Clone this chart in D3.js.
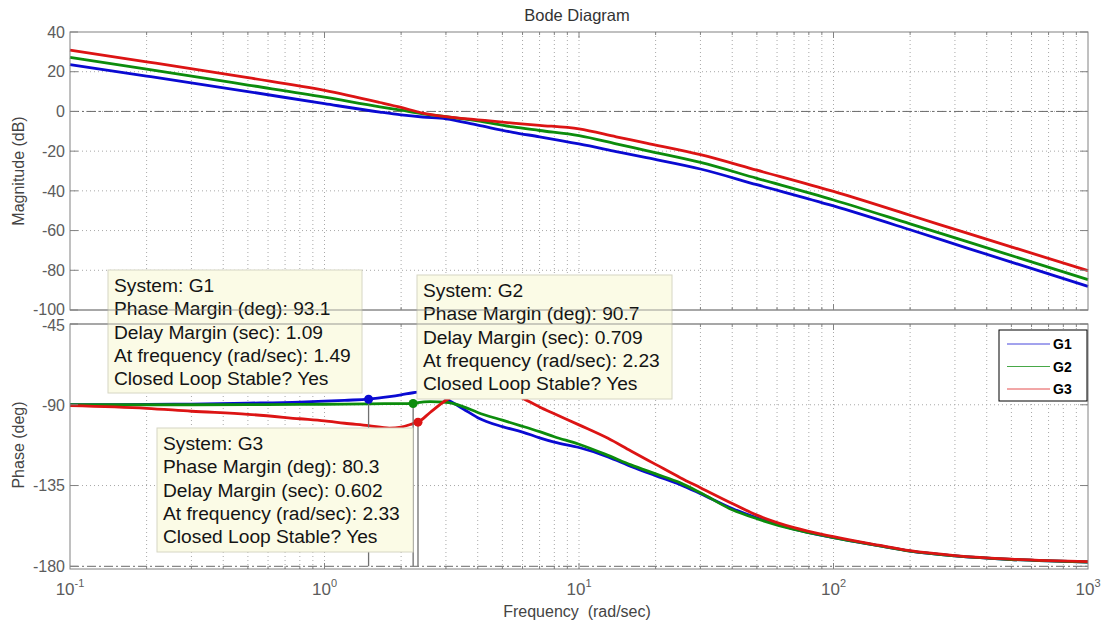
<!DOCTYPE html>
<html>
<head>
<meta charset="utf-8">
<script src="https://cdn.jsdelivr.net/npm/d3@7"></script>
<style>
  body { margin: 0; background: #fff; }
  text { font-family: "Liberation Sans", Arial, sans-serif; }
</style>
</head>
<body>
<svg id="chart" width="1102" height="626"></svg>
<script>
// Open-loop transfer functions G1, G2, G3 — Bode magnitude / phase samples
const seriesNames = ["G1", "G2", "G3"];
const seriesColors = ["#0a0ad2", "#0c8c0c", "#dc1414"];

const freqMag = [0.1, 0.2, 0.5, 1, 1.65, 2.0, 2.43, 3.0, 4, 5.5, 7, 10, 14, 18.4, 30, 50, 100, 200, 335, 1000];
const magG1 = [23.6, 17.8, 10.0, 3.9, -0.3, -1.7, -2.8, -3.7, -6.9, -10.5, -12.8, -16.4, -20.2, -23.3, -29.0, -36.9, -47.6, -59.6, -68.8, -88.1];
const magG2 = [27.2, 21.3, 13.3, 7.2, 2.3, 0.6, -1.2, -2.6, -4.8, -7.8, -9.6, -12.2, -16.3, -19.7, -25.7, -33.7, -44.6, -56.6, -65.6, -84.7];
const magG3 = [30.9, 25.0, 17.0, 10.6, 4.5, 2.0, -0.8, -2.6, -4.2, -5.9, -7.0, -8.8, -12.8, -16.0, -21.8, -29.6, -40.3, -52.3, -61.3, -80.2];

const freqPhase = [0.1, 0.2, 0.3, 0.5, 0.8, 1, 1.2, 1.49, 1.8, 2.0, 2.23, 2.33, 2.6, 3.0, 3.5, 4, 5, 6, 7, 8, 10, 13, 16, 20, 25, 30, 40, 50, 70, 100, 150, 200, 300, 500, 700, 1000];
const phaseG1 = [-90, -89.8, -89.6, -89.1, -88.5, -88.0, -87.5, -86.9, -85.5, -84.5, -83.3, -83.0, -82.5, -86.7, -92.2, -97.2, -102.2, -105.2, -108.4, -110.8, -113.8, -119.0, -124.3, -129.5, -134.5, -139.5, -147.8, -153.0, -159.3, -164.0, -168.5, -171.5, -174.2, -176.2, -177.0, -177.6];
const phaseG2 = [-90, -90, -90, -89.9, -89.8, -89.7, -89.6, -89.5, -89.4, -89.4, -89.3, -88.8, -88.3, -88.6, -91.0, -94.3, -98.6, -102.0, -105.0, -107.8, -112.0, -118.2, -123.5, -128.5, -133.5, -139.0, -148.5, -153.5, -159.5, -164.0, -168.5, -171.6, -174.2, -176.2, -177.0, -177.6];
const phaseG3 = [-90.5, -92.0, -93.6, -95.3, -97.8, -99.0, -100.3, -101.6, -103.0, -102.4, -100.5, -99.7, -94.3, -87.5, -82.5, -80.0, -81.0, -86.3, -91.2, -95.0, -101.2, -108.7, -115.8, -123.2, -130.6, -136.2, -145.0, -151.5, -158.5, -163.5, -168.2, -171.3, -174.0, -176.0, -176.8, -177.4];

// Stability margins (phase crossover data tips)
const marginFreq = [1.49, 2.23, 2.33];
const phaseMargin = [93.1, 90.7, 80.3];
const delayMargin = ["1.09", "0.709", "0.602"];

// Axis ticks
const magTicks = [40, 20, 0, -20, -40, -60, -80, -100];
const phaseTicks = [-45, -90, -135, -180];
const decadeTicks = [0.1, 1, 10, 100, 1000];
const decadeExponents = ["-1", "0", "1", "2", "3"];

const svg = d3.select("#chart");
svg.append("rect").attr("width", 1102).attr("height", 626).attr("fill", "#fff");

const x = d3.scaleLog().domain([0.1, 1000]).range([70, 1088]);
const yMag = d3.scaleLinear().domain([-100, 40]).range([310, 32]);
const yPh = d3.scaleLinear().domain([-181.5, -45]).range([569, 324]);

const minorFreqs = [];
[-1, 0, 1, 2].forEach(k => { for (let m = 2; m <= 9; m++) minorFreqs.push(m * Math.pow(10, k)); });
const innerDecades = decadeTicks.slice(1, -1);

const gridColor = "#a8a8a8";
const frameColor = "#828282";

function drawPanel(y, yTicks) {
  const [y0, y1] = y.range();   // bottom, top
  const g = svg.append("g");
  // vertical grid
  g.selectAll(null).data(minorFreqs.concat(innerDecades)).join("line")
    .attr("x1", d => x(d)).attr("x2", d => x(d))
    .attr("y1", y1).attr("y2", y0)
    .attr("stroke", gridColor).attr("stroke-width", 1)
    .attr("stroke-dasharray", "1,3");
  // horizontal grid
  g.selectAll(null).data(yTicks.filter(t => y(t) > y1 + 1 && y(t) < y0 - 4)).join("line")
    .attr("x1", 70).attr("x2", 1088)
    .attr("y1", d => y(d)).attr("y2", d => y(d))
    .attr("stroke", gridColor).attr("stroke-width", 1)
    .attr("stroke-dasharray", "1,3");
  return g;
}

function drawFrame(y, yTicks, labelNudge) {
  const [y0, y1] = y.range();
  const g = svg.append("g").attr("fill", "none").attr("stroke", frameColor);
  g.append("rect").attr("x", 70).attr("y", y1).attr("width", 1018).attr("height", y0 - y1)
    .attr("stroke-width", 1);
  // x ticks, bottom and top, pointing inward
  const xt = minorFreqs.map(d => ({ f: d, len: 3 })).concat(innerDecades.map(d => ({ f: d, len: 6 })));
  g.selectAll(null).data(xt).join("line")
    .attr("x1", d => x(d.f)).attr("x2", d => x(d.f))
    .attr("y1", y0).attr("y2", d => y0 - d.len);
  g.selectAll(null).data(xt).join("line")
    .attr("x1", d => x(d.f)).attr("x2", d => x(d.f))
    .attr("y1", y1).attr("y2", d => y1 + d.len);
  // y ticks, left and right
  g.selectAll(null).data(yTicks).join("line")
    .attr("x1", 70).attr("x2", 78).attr("y1", d => y(d)).attr("y2", d => y(d));
  g.selectAll(null).data(yTicks).join("line")
    .attr("x1", 1080).attr("x2", 1088).attr("y1", d => y(d)).attr("y2", d => y(d));
  // tick labels
  svg.append("g").selectAll(null).data(yTicks).join("text")
    .attr("x", 65).attr("y", d => y(d) + (labelNudge[d] || 0)).attr("dy", "0.36em")
    .attr("text-anchor", "end").attr("font-size", 16).attr("fill", "#5c5c5c")
    .text(d => d);
}

drawPanel(yMag, magTicks);
drawPanel(yPh, phaseTicks);

// reference lines: 0 dB and -180 deg
svg.append("line").attr("x1", 70).attr("x2", 1088).attr("y1", yMag(0)).attr("y2", yMag(0))
  .attr("stroke", "#6a6a6a").attr("stroke-width", 1).attr("stroke-dasharray", "9,3,2,3");
svg.append("line").attr("x1", 70).attr("x2", 1088).attr("y1", yPh(-180)).attr("y2", yPh(-180))
  .attr("stroke", "#6a6a6a").attr("stroke-width", 1).attr("stroke-dasharray", "9,3,2,3");

// curves
const magSeries = [magG1, magG2, magG3];
const phaseSeries = [phaseG1, phaseG2, phaseG3];

const magLine = d3.line().x(d => x(d[0])).y(d => yMag(d[1])).curve(d3.curveMonotoneX);
const phLine = d3.line().x(d => x(d[0])).y(d => yPh(d[1])).curve(d3.curveMonotoneX);

svg.append("g").selectAll("path").data(magSeries).join("path")
  .attr("d", s => magLine(freqMag.map((f, i) => [f, s[i]])))
  .attr("fill", "none").attr("stroke", (d, i) => seriesColors[i])
  .attr("stroke-width", 2.8).attr("stroke-linejoin", "round");

svg.append("g").selectAll("path").data(phaseSeries).join("path")
  .attr("d", s => phLine(freqPhase.map((f, i) => [f, s[i]])))
  .attr("fill", "none").attr("stroke", (d, i) => seriesColors[i])
  .attr("stroke-width", 2.8).attr("stroke-linejoin", "round");

drawFrame(yMag, magTicks, { "-100": -1 });
drawFrame(yPh, phaseTicks, { "-45": 1 });

// margin markers with drop lines to -180 deg
const margins = marginFreq.map((f, i) => ({ f, pm: phaseMargin[i], dm: delayMargin[i], name: seriesNames[i], color: seriesColors[i] }));
svg.append("g").selectAll("line").data(margins).join("line")
  .attr("x1", d => x(d.f)).attr("x2", d => x(d.f))
  .attr("y1", d => yPh(d.pm - 180)).attr("y2", yPh(-180))
  .attr("stroke", "#707070").attr("stroke-width", 1.3);
svg.append("g").selectAll("circle").data(margins).join("circle")
  .attr("cx", d => x(d.f)).attr("cy", d => yPh(d.pm - 180)).attr("r", 4.5)
  .attr("fill", d => d.color);

// data tips
const tipLayout = [
  { x: 108, y: 270, w: 254, h: 123 },
  { x: 417, y: 275, w: 255, h: 124 },
  { x: 157, y: 428, w: 256, h: 124 }
];
const tips = svg.append("g");
margins.forEach((m, i) => {
  const L = tipLayout[i];
  const g = tips.append("g");
  g.append("rect").attr("x", L.x).attr("y", L.y).attr("width", L.w).attr("height", L.h)
    .attr("fill", "#fbfbe6").attr("stroke", "#d6d6c4").attr("stroke-width", 1);
  const lines = [
    `System: ${m.name}`,
    `Phase Margin (deg): ${m.pm}`,
    `Delay Margin (sec): ${m.dm}`,
    `At frequency (rad/sec): ${m.f}`,
    `Closed Loop Stable? Yes`
  ];
  g.selectAll("text").data(lines).join("text")
    .attr("x", L.x + 6).attr("y", (d, k) => L.y + 22 + k * 23.3)
    .attr("font-size", 19.2).attr("fill", "#141414")
    .text(d => d);
});

// panel edges between the two axes stay visible over the data tips
svg.append("line").attr("x1", 70).attr("x2", 1088).attr("y1", yMag.range()[0]).attr("y2", yMag.range()[0])
  .attr("stroke", frameColor).attr("stroke-width", 1).attr("opacity", 0.8);
svg.append("line").attr("x1", 70).attr("x2", 1088).attr("y1", yPh.range()[1]).attr("y2", yPh.range()[1])
  .attr("stroke", frameColor).attr("stroke-width", 1).attr("opacity", 0.8);

// legend
const lg = svg.append("g");
lg.append("rect").attr("x", 999).attr("y", 330).attr("width", 88).attr("height", 71)
  .attr("fill", "#fff").attr("stroke", "#000").attr("stroke-width", 1);
const lgItems = lg.selectAll("g").data(seriesNames).join("g")
  .attr("transform", (d, i) => `translate(0,${344 + i * 22.5})`);
lgItems.append("line").attr("x1", 1007).attr("x2", 1050).attr("y1", 0).attr("y2", 0)
  .attr("stroke", (d, i) => seriesColors[i]).attr("stroke-width", 1).attr("opacity", 0.75);
lgItems.append("text").attr("x", 1053).attr("y", 0).attr("dy", "0.36em")
  .attr("font-size", 14).attr("font-weight", "bold").attr("fill", "#000")
  .text(d => d);

// x tick labels as powers of ten
const xl = svg.append("g").selectAll("text").data(decadeTicks).join("text")
  .attr("x", d => x(d)).attr("y", 595).attr("text-anchor", "middle")
  .attr("font-size", 17).attr("fill", "#5c5c5c");
xl.append("tspan").text("10");
xl.append("tspan").attr("font-size", 11).attr("dy", -8).text((d, i) => decadeExponents[i]);

// titles
svg.append("text").attr("x", 577).attr("y", 21).attr("text-anchor", "middle")
  .attr("font-size", 16.5).attr("fill", "#333").text("Bode Diagram");
svg.append("text").attr("x", 577).attr("y", 617).attr("text-anchor", "middle")
  .attr("font-size", 16).attr("fill", "#444").style("white-space", "pre")
  .text("Frequency  (rad/sec)");
svg.append("text").attr("transform", "translate(24,171) rotate(-90)").attr("text-anchor", "middle")
  .attr("font-size", 16).attr("fill", "#444").text("Magnitude (dB)");
svg.append("text").attr("transform", "translate(24,445) rotate(-90)").attr("text-anchor", "middle")
  .attr("font-size", 16).attr("fill", "#444").text("Phase (deg)");
</script>
</body>
</html>
